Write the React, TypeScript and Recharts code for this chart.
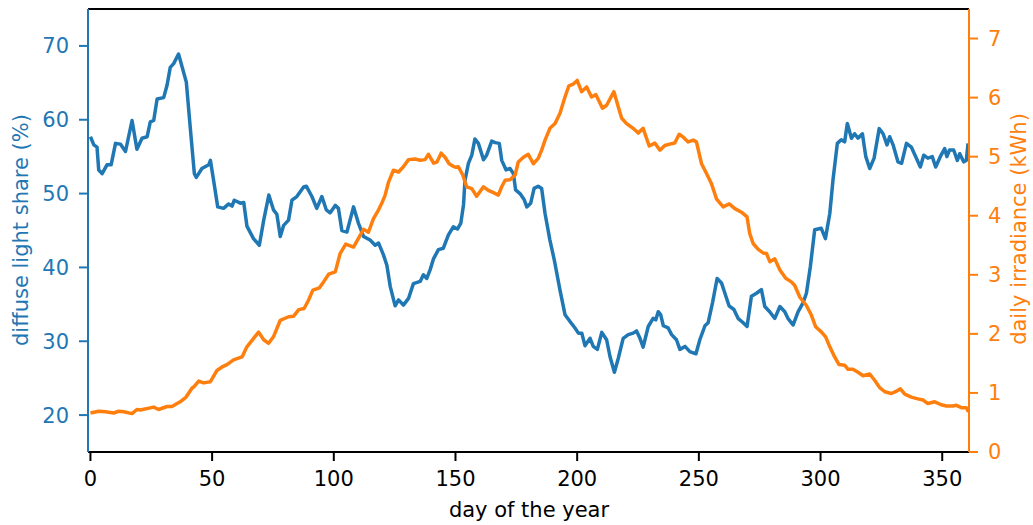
import React from "react";
import { LineChart, Line, XAxis, YAxis, ReferenceLine } from "recharts";

const BLUE = "#1f77b4";
const ORANGE = "#ff7f0e";
const FONT = "DejaVu Sans";

// diffuse light share (%), left axis
const diffuseDays = [
  0, 1.4, 2.7, 3.4, 4.8, 6.8, 8.5, 10.3, 12.3, 14.4, 17.1, 19.1, 21.2, 23.3, 24.6, 26, 27.4, 30.1, 31.5,
  32.8, 34.2, 36.2, 39.4, 41, 42.7, 43.5, 45.8, 48.6, 49.3, 50.6, 52.3, 54.7, 56.8, 58.2, 59.1, 61.6, 63,
  64.3, 67, 69.4, 71.2, 73.3, 75.2, 76.6, 78, 79.4, 81.4, 82.8, 84.8, 87.6, 88.7, 91, 93, 95.1, 96.9, 98.5,
  100.6, 101.9, 103.3, 105.4, 108.1, 110.1, 112.2, 114.9, 117, 118.4, 120.4, 121.8, 123.2, 125.2, 126.6,
  128.6, 130.7, 132.7, 135.5, 136.8, 138.2, 139.6, 141, 143, 145, 147.1, 149.1, 150.8, 152.2, 153.3, 153.9,
  155.3, 156.7, 158, 159.4, 161.5, 162.8, 164.9, 166.3, 168, 169, 170.8, 172.4, 173.8, 174.7, 176.5, 178.2,
  179.3, 180.9, 182.3, 184, 185.4, 186.8, 188.8, 190.6, 192.9, 195, 197, 199.1, 200.5, 201.9, 203.2, 205.3,
  206.6, 208.3, 210.1, 212.1, 213.5, 215.3, 216.9, 218.9, 221, 223, 224.4, 225.8, 227.1, 229.2, 231.2, 232.3,
  233.3, 234.3, 235.4, 237.4, 238.8, 240.8, 242.2, 244.3, 246.3, 248.8, 250.4, 252.5, 253.8, 255.6, 257.5,
  259.3, 260.7, 262.4, 264.4, 266.1, 268.2, 269.8, 271.6, 273.7, 275.7, 277.1, 279.1, 281.2, 283.3, 285.3,
  286.6, 288.7, 290.8, 292.8, 294.2, 295.8, 297.6, 300.3, 302, 303.8, 305.1, 306.9, 308.5, 309.9, 311,
  312.7, 314, 315.4, 317.2, 318.6, 320.2, 322, 324.1, 325.7, 327.3, 328.4, 329.8, 331.8, 333.3, 335.3,
  337.3, 339.1, 341, 342.4, 344.1, 345.9, 347.3, 349.2, 351, 351.9, 353, 354.7, 356.2, 357.2, 358.8, 359.9,
  360.6,
];
const diffuseShare = [
  57.7, 56.6, 56.3, 53.2, 52.7, 53.9, 53.9, 56.8, 56.7, 55.7, 59.9, 56.0, 57.5, 57.7, 59.7, 59.9, 62.8, 63.0,
  64.7, 67.1, 67.6, 68.9, 65.1, 59.0, 52.7, 52.2, 53.4, 53.9, 54.5, 51.8, 48.2, 48.0, 48.6, 48.3, 49.1, 48.7,
  48.8, 45.6, 43.9, 43.0, 46.4, 49.8, 47.8, 47.2, 44.2, 45.7, 46.4, 49.1, 49.6, 50.9, 51.0, 49.6, 48.0, 49.6,
  47.8, 47.4, 48.4, 48.0, 45.0, 44.8, 48.2, 46.0, 44.2, 43.7, 43.0, 43.3, 41.7, 40.3, 37.4, 34.8, 35.6, 34.9,
  35.8, 37.8, 38.1, 39.0, 38.5, 39.7, 41.2, 42.4, 42.6, 44.4, 45.5, 45.2, 46.0, 48.5, 51.8, 54.1, 55.2, 57.4,
  56.8, 54.6, 55.2, 57.1, 56.9, 56.8, 54.5, 53.2, 53.4, 52.7, 50.5, 50.0, 49.2, 48.2, 48.7, 50.7, 51.0, 50.7,
  47.3, 43.7, 41.0, 37.0, 33.6, 32.7, 31.8, 31.1, 31.1, 29.4, 30.4, 29.3, 28.9, 31.2, 30.2, 27.9, 25.8, 27.7,
  30.4, 30.9, 31.1, 31.4, 30.4, 29.2, 32.0, 33.1, 32.9, 34.0, 33.6, 32.1, 31.8, 30.9, 30.2, 28.9, 29.3, 28.6,
  28.3, 30.2, 32.1, 32.5, 35.2, 38.5, 37.9, 36.5, 34.8, 34.3, 33.1, 32.5, 32.0, 36.1, 36.5, 37.0, 34.7, 34.0,
  33.1, 34.7, 34.0, 33.1, 32.2, 34.0, 35.2, 36.5, 40.1, 45.1, 45.3, 43.9, 47.3, 51.8, 56.8, 57.3, 57.0, 59.5,
  57.5, 58.1, 57.5, 58.1, 55.0, 53.4, 54.8, 58.8, 58.1, 56.6, 57.7, 56.6, 54.3, 54.1, 56.8, 56.3, 55.0, 53.6,
  55.2, 54.8, 55.0, 53.6, 55.0, 56.1, 55.0, 55.9, 55.9, 54.5, 55.4, 54.3, 54.5, 56.8,
];

// daily irradiance (kWh), right axis
const irradianceDays = [
  0, 3.4, 6.2, 9.6, 11.6, 13.7, 17.1, 19.1, 20.5, 26, 28, 31.5, 33.5, 35.6, 36.9, 39.3, 41.7, 42.4, 44.5,
  46.5, 49.3, 52, 54.1, 56.1, 58.8, 62.3, 64.3, 66.4, 69.1, 71.2, 73.2, 75.2, 78, 81.4, 83.5, 85.6, 87.8,
  89.6, 91.4, 94.1, 95.8, 97.9, 100.6, 102.6, 104.9, 108.1, 112.2, 114.2, 116.3, 118.4, 119.7, 121.1, 122.5,
  124.5, 126.6, 128.6, 130.7, 133.4, 135.5, 137.5, 138.9, 141, 142.4, 144.1, 145.7, 147.4, 148.9, 150.2,
  151.2, 153, 154.6, 156.7, 158.7, 161.5, 163.5, 165.6, 167.6, 169, 170.4, 172.4, 174.5, 175.8, 177.9,
  179.9, 182, 184, 185.4, 186.8, 188.8, 190.9, 192.9, 195, 196.6, 198.4, 200, 201.8, 203.9, 205.9, 207.7,
  210.4, 212.1, 215.1, 216.9, 218.3, 220.3, 223, 225.1, 227.1, 229.6, 231.9, 234, 236, 238.8, 240.1, 241.9,
  243.6, 245.6, 247.7, 249, 251.1, 253.2, 255.2, 257.3, 260, 262.5, 264.8, 267.5, 269.8, 270.9, 272.3,
  274.4, 276.4, 277.8, 279.2, 281.2, 283.3, 285.7, 288, 289.4, 291.5, 294.2, 296.3, 298, 300.4, 302.1,
  303.8, 305.8, 307.6, 309.9, 311.3, 313.3, 315.4, 317.5, 320.2, 322.3, 324.3, 326.4, 329.1, 331.2, 332.8,
  334.6, 337.3, 340, 342.1, 344.1, 346.9, 349.6, 351.7, 354.4, 355.8, 357.9, 359.9, 360.8,
];
const irradiance = [
  0.66, 0.69, 0.68, 0.66, 0.69, 0.68, 0.65, 0.72, 0.71, 0.76, 0.72, 0.77, 0.77, 0.82, 0.85, 0.93, 1.08, 1.1,
  1.2, 1.17, 1.19, 1.38, 1.44, 1.48, 1.56, 1.61, 1.78, 1.89, 2.03, 1.9, 1.84, 1.95, 2.23, 2.29, 2.3, 2.41,
  2.43, 2.57, 2.74, 2.78, 2.88, 3.01, 3.05, 3.36, 3.52, 3.47, 3.77, 3.72, 3.95, 4.1, 4.21, 4.35, 4.57, 4.77,
  4.74, 4.83, 4.95, 4.96, 4.94, 4.95, 5.04, 4.89, 4.91, 5.06, 4.99, 4.88, 4.84, 4.82, 4.83, 4.69, 4.49, 4.46,
  4.33, 4.49, 4.43, 4.39, 4.35, 4.49, 4.6, 4.61, 4.69, 4.91, 4.99, 5.04, 4.88, 4.97, 5.11, 5.28, 5.48, 5.56,
  5.73, 6.01, 6.2, 6.23, 6.29, 6.1, 6.18, 6.01, 6.05, 5.82, 5.87, 6.1, 5.84, 5.65, 5.56, 5.48, 5.4, 5.48,
  5.18, 5.23, 5.11, 5.19, 5.22, 5.23, 5.38, 5.33, 5.25, 5.28, 5.25, 4.88, 4.71, 4.54, 4.28, 4.15, 4.2, 4.12,
  4.06, 3.98, 3.7, 3.53, 3.43, 3.37, 3.36, 3.22, 3.27, 3.08, 2.94, 2.88, 2.82, 2.62, 2.48, 2.31, 2.12, 2.03,
  1.95, 1.78, 1.61, 1.48, 1.47, 1.4, 1.4, 1.35, 1.29, 1.32, 1.21, 1.09, 1.02, 0.99, 1.03, 1.07, 0.98, 0.93,
  0.9, 0.88, 0.82, 0.85, 0.8, 0.78, 0.78, 0.79, 0.75, 0.75, 0.68,
];

const xTicks = [0, 50, 100, 150, 200, 250, 300, 350];
const leftTicks = [20, 30, 40, 50, 60, 70];
const rightTicks = [0, 1, 2, 3, 4, 5, 6, 7];

const diffuseData = diffuseDays.map((day, i) => ({ day, value: diffuseShare[i] }));
const irradianceData = irradianceDays.map((day, i) => ({ day, value: irradiance[i] }));

export default function App() {
  const tickFont = { fontFamily: FONT, fontSize: 21 };
  return (
    <div style={{ position: "absolute", left: 0, top: 0, width: 1033, height: 525, background: "#fff" }}>
      <LineChart width={1033} height={525} margin={{ top: 9, right: 0, bottom: 0, left: 0 }}>
        <XAxis
          type="number"
          dataKey="day"
          domain={[-1, 361]}
          ticks={xTicks}
          height={73}
          tickSize={9}
          tickMargin={10}
          stroke="#000"
          strokeWidth={2}
          tick={{ ...tickFont, fill: "#000" }}
          tickLine={{ stroke: "#000", strokeWidth: 2 }}
        />
        <YAxis
          yAxisId="left"
          domain={[15, 75]}
          ticks={leftTicks}
          width={88}
          tickSize={9}
          tickMargin={10}
          stroke={BLUE}
          strokeWidth={2}
          tick={{ ...tickFont, fill: BLUE }}
          tickLine={{ stroke: BLUE, strokeWidth: 2 }}
        />
        <YAxis
          yAxisId="right"
          orientation="right"
          domain={[0, 7.5]}
          ticks={rightTicks}
          width={64}
          tickSize={9}
          tickMargin={10}
          stroke={ORANGE}
          strokeWidth={2}
          tick={{ ...tickFont, fill: ORANGE }}
          tickLine={{ stroke: ORANGE, strokeWidth: 2 }}
        />
        <ReferenceLine yAxisId="left" y={75} stroke="#000" strokeWidth={2} />
        <Line
          yAxisId="left"
          data={diffuseData}
          dataKey="value"
          type="linear"
          stroke={BLUE}
          strokeWidth={3.5}
          strokeLinejoin="round"
          strokeLinecap="butt"
          dot={false}
          isAnimationActive={false}
        />
        <Line
          yAxisId="right"
          data={irradianceData}
          dataKey="value"
          type="linear"
          stroke={ORANGE}
          strokeWidth={3.5}
          strokeLinejoin="round"
          strokeLinecap="butt"
          dot={false}
          isAnimationActive={false}
        />
      </LineChart>
      <svg
        width={1033}
        height={525}
        style={{ position: "absolute", left: 0, top: 0, pointerEvents: "none" }}
      >
        <text x={529} y={517} textAnchor="middle" fontFamily={FONT} fontSize={21} fill="#000">
          day of the year
        </text>
        <text
          transform="translate(28,230) rotate(-90)"
          textAnchor="middle"
          fontFamily={FONT}
          fontSize={21}
          fill={BLUE}
        >
          diffuse light share (%)
        </text>
        <text
          transform="translate(1026,229) rotate(-90)"
          textAnchor="middle"
          fontFamily={FONT}
          fontSize={21}
          fill={ORANGE}
        >
          daily irradiance (kWh)
        </text>
      </svg>
    </div>
  );
}
